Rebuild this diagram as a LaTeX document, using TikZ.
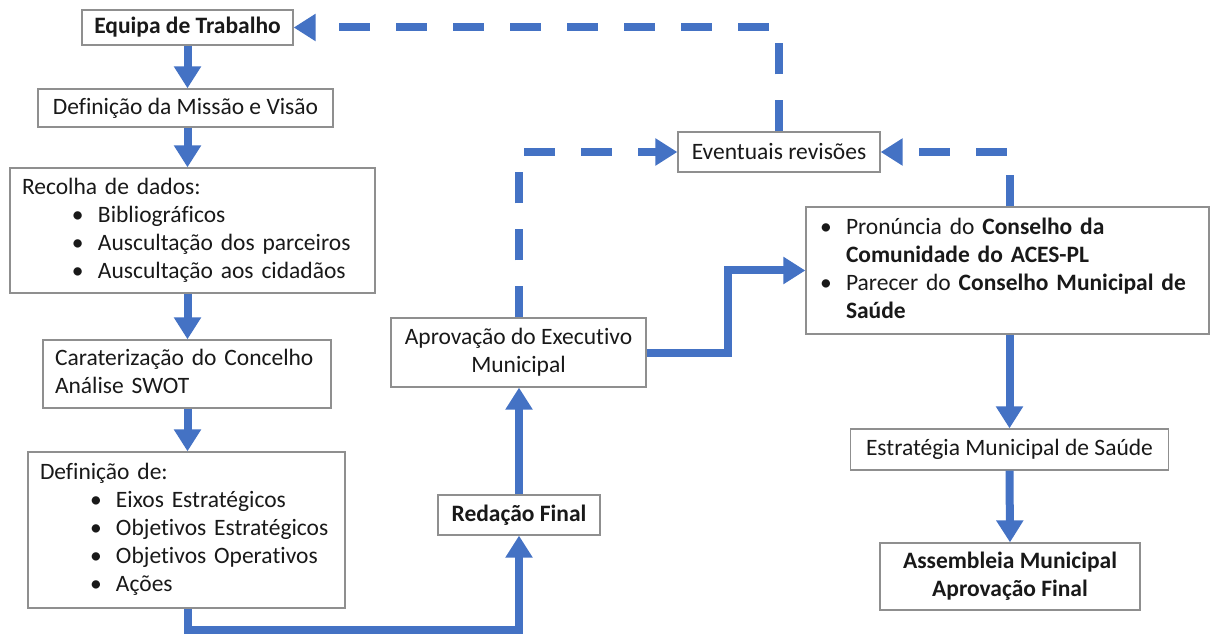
\documentclass[tikz,border=0pt]{standalone}
\usepackage{fontspec}
\setmainfont{Carlito}[Ligatures=NoCommon]
\usetikzlibrary{arrows.meta}
\definecolor{flowblue}{HTML}{4472C4}
\definecolor{boxgray}{HTML}{8F8F8F}
\newcommand{\li}{\hspace*{50pt}\makebox[26pt][l]{\textbullet}}
\newcommand{\lj}{\makebox[26pt][l]{\textbullet}}
\newcommand{\boxlines}[1]{\begin{tabular}{@{}l@{}}#1\end{tabular}}

\begin{document}
\begin{tikzpicture}[x=1pt,y=-1pt,
  box/.style={draw=boxgray,line width=1.3pt,fill=white,inner sep=0pt,
    font=\fontsize{23.5}{28}\selectfont,text=black!90,align=center},
  listbox/.style={box,align=left,inner xsep=12pt},
  flow/.style={draw=flowblue,line width=8pt,-{Triangle[length=22pt,width=26pt]}},
  back/.style={flow,dash pattern=on 31pt off 26pt}]
  \useasboundingbox (0,0) rectangle (1210,636);

  % left column
  \node[box,minimum width=211,minimum height=35,font=\fontsize{23.5}{28}\selectfont\bfseries] (equipa) at (187.5,27.5) {Equipa de Trabalho};
  \node[box,minimum width=295,minimum height=38] (missao) at (185.5,108) {Definição da Missão e Visão};
  \node[listbox,text width=341,minimum height=125] (recolha) at (192.5,230.5)
    {\boxlines{Recolha de dados:\\ \li Bibliográficos\\ \li Auscultação dos parceiros\\ \li Auscultação aos cidadãos}};
  \node[listbox,text width=264,minimum height=68] (carat) at (187,374)
    {\boxlines{Caraterização do Concelho\\ Análise SWOT}};
  \node[listbox,text width=293,minimum height=156] (defin) at (186.5,530)
    {\boxlines{Definição de:\\ \li Eixos Estratégicos\\ \li Objetivos Estratégicos\\ \li Objetivos Operativos\\ \li Ações}};

  % middle
  \node[box,minimum width=162,minimum height=40,font=\fontsize{23.5}{28}\selectfont\bfseries] (redacao) at (519,515) {Redação Final};
  \node[box,minimum width=255,minimum height=69] (aprov) at (518.5,352.5) {Aprovação do Executivo\\ Municipal};
  \node[box,minimum width=202,minimum height=40] (rev) at (779,152) {Eventuais revisões};

  % right column
  \node[listbox,inner xsep=14pt,text width=375,minimum height=127] (pron) at (1007.5,270.5)
    {\boxlines{\lj Pronúncia do \textbf{Conselho da}\\ \hspace*{26pt}\textbf{Comunidade do ACES-PL}\\
     \lj Parecer do \textbf{Conselho Municipal de}\\ \hspace*{26pt}\textbf{Saúde}}};
  \node[box,minimum width=318,minimum height=41] (estr) at (1009.5,449.5) {Estratégia Municipal de Saúde};
  \node[box,minimum width=260,minimum height=67,font=\fontsize{23.5}{28}\selectfont\bfseries] (assem) at (1010,576.5)
    {Assembleia Municipal\\ Aprovação Final};

  % connectors
  \foreach \a/\b in {equipa/missao,missao/recolha,recolha/carat,carat/defin}
    \draw[flow] (equipa.south |- \a.south) -- (equipa.south |- \b.north);
  \draw[flow] (equipa.south |- defin.south) -- ++(0,21) -| (redacao.south);
  \draw[flow] (redacao.north) -- (redacao.north |- aprov.south);
  \draw[flow] (aprov.east) -- ++(81,0) |- (pron.west);
  \draw[flow] (pron.south -| estr.north) -- (estr.north);
  \draw[flow] (estr.south) -- (assem.north);

  % revision loops
  \draw[back] (aprov.north) |- (rev.west);
  \draw[back] (pron.north -| estr.north) |- (rev.east);
  \draw[back] (rev.north) |- (equipa.east);
\end{tikzpicture}
\end{document}
